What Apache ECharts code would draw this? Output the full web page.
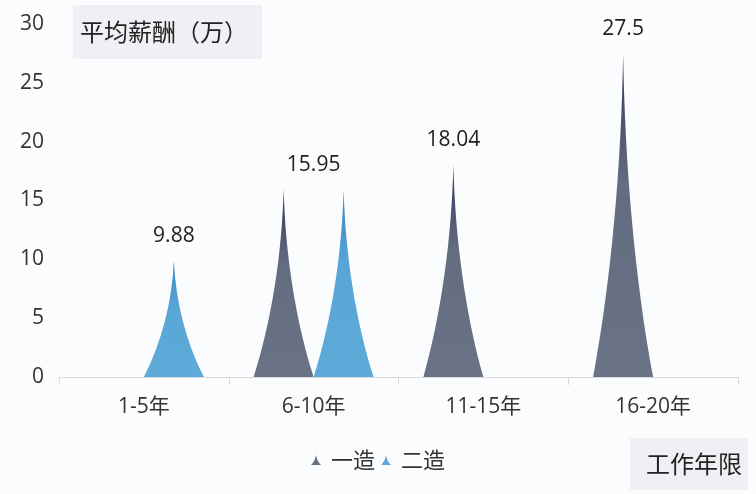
<!DOCTYPE html>
<html><head><meta charset="utf-8">
<script src="https://cdn.jsdelivr.net/npm/echarts@6/dist/echarts.min.js"></script>
<style>html,body{margin:0;padding:0;background:#fbfcfe;}#c{width:756px;height:494px;}</style>
</head><body><div id="c"></div>
<script>
const categories = ['1-5年', '6-10年', '11-15年', '16-20年'];
const seriesNames = ['一造', '二造'];
const yizao = ['-', 15.95, 18.04, 27.5];
const erzao = [9.88, 15.95, '-', '-'];
const yTicks = [0, 5, 10, 15, 20, 25, 30];

const spike = 'path://M0,10 C3,7 4.7,3.5 5,0 C5.3,3.5 7,7 10,10 z';
const font = '"Open Sans", "Noto Sans CJK SC", sans-serif';
const cjk = '"Noto Sans CJK SC", sans-serif';
const chart = echarts.init(document.getElementById('c'));

function grad(top, mid, bottom) {
  return new echarts.graphic.LinearGradient(0, 0, 0, 1, [
    {offset: 0, color: top}, {offset: 0.4, color: mid}, {offset: 1, color: bottom}
  ]);
}

const yizaoData = yizao.map((v, i) => {
  if (v === '-') return v;
  const both = erzao[i] !== '-';
  return {value: v, label: {show: true, offset: both ? [30, 0] : [0, 0]}};
});
const erzaoData = erzao.map((v, i) => {
  if (v === '-') return v;
  const both = yizao[i] !== '-';
  return {value: v, label: {show: !both}};
});

const labelStyle = {position: 'top', distance: 14, fontSize: 21, color: '#222', fontFamily: font};

chart.setOption({
  backgroundColor: '#fbfcfe',
  animation: false,
  title: [
    {text: '平均薪酬（万）', left: 73, top: 5, backgroundColor: '#eef0f3',
     padding: [15, 14, 15, 7],
     textStyle: {fontSize: 24, fontWeight: 'normal', color: '#222', fontFamily: cjk}},
    {text: '工作年限', right: 8, bottom: 4, backgroundColor: '#eef0f3',
     padding: [14, 6, 14, 16],
     textStyle: {fontSize: 24, fontWeight: 'normal', color: '#222', fontFamily: cjk}}
  ],
  legend: {
    data: seriesNames, bottom: 18, left: 'center',
    itemWidth: 20, itemHeight: 10, itemGap: 6,
    icon: spike,
    textStyle: {fontSize: 22, color: '#333', fontFamily: cjk}
  },
  grid: {left: 59, right: 18, top: 24, bottom: 117},
  xAxis: {
    type: 'category', data: categories,
    axisLine: {lineStyle: {color: '#d9dadd'}},
    axisTick: {show: true, length: 8, lineStyle: {color: '#d9dadd'}},
    axisLabel: {fontSize: 21, color: '#333', margin: 20, fontFamily: font}
  },
  yAxis: {
    type: 'value', min: yTicks[0], max: yTicks[yTicks.length - 1], interval: 5,
    axisLine: {show: false}, axisTick: {show: false}, splitLine: {show: false},
    axisLabel: {fontSize: 21, color: '#333', margin: 15, fontFamily: font}
  },
  series: [
    {name: seriesNames[0], type: 'pictorialBar', symbol: spike, barWidth: 60, barGap: '0%',
     itemStyle: {color: grad('#34375a', '#646c80', '#6a7386')},
     label: Object.assign({show: false}, labelStyle),
     data: yizaoData},
    {name: seriesNames[1], type: 'pictorialBar', symbol: spike, barWidth: 60, barGap: '0%',
     itemStyle: {color: grad('#3c86c0', '#58a6d6', '#5eabd9')},
     label: Object.assign({show: false}, labelStyle),
     data: erzaoData}
  ]
});
</script></body></html>
